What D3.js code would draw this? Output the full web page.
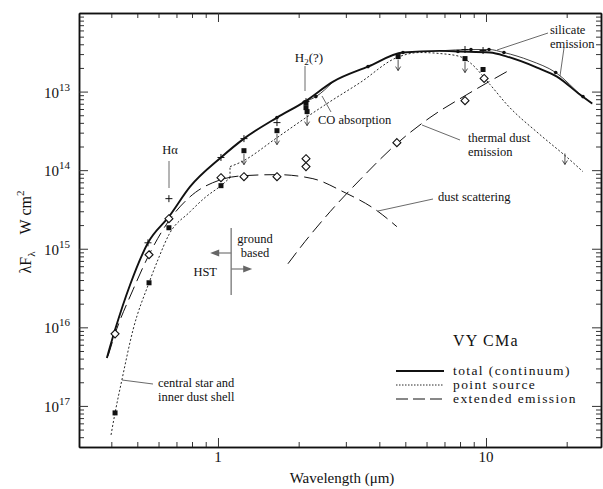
<!DOCTYPE html>
<html>
<head>
<meta charset="utf-8">
<script src="https://cdn.jsdelivr.net/npm/d3@7"></script>
<style>
  body { margin: 0; background: #fff; }
  svg text { font-family: "Liberation Serif", "DejaVu Serif", serif !important; fill: #111; }
</style>
</head>
<body>
<svg id="chart" width="603" height="489" font-family="Liberation Serif, DejaVu Serif, serif"></svg>
<script>
// wavelength (um), lambda F_lambda (W cm^-2)
const totalCurve = [[0.385, 4.08e-17], [0.413, 9.29e-17], [0.47, 3.48e-16], [0.548, 1.19e-15], [0.656, 2.56e-15],
  [0.787, 6.17e-15], [1.026, 1.45e-14], [1.25, 2.52e-14], [1.66, 4.67e-14], [2.11, 7.46e-14], [2.69, 1.34e-13],
  [3.63, 2.08e-13], [4.9, 3.14e-13], [6.73, 3.30e-13], [8.0, 3.24e-13], [10.35, 3.14e-13], [11.98, 2.79e-13],
  [15.5, 2.02e-13], [18.4, 1.55e-13], [22.4, 9.16e-14], [24.9, 7.03e-14]]
const silicateCurve = [[6.73, 3.30e-13], [8.79, 3.43e-13], [10.26, 3.43e-13], [11.67, 3.14e-13], [14.6, 2.48e-13],
  [18.2, 1.75e-13], [23.0, 8.63e-14], [24.9, 7.03e-14]]
const coCurve = [[2.11, 7.46e-14], [2.32, 8.63e-14], [2.69, 1.34e-13]]
const pointSourceA = [[0.399, 4.27e-18], [0.413, 8.15e-18], [0.438, 2.14e-17], [0.482, 9.29e-17], [0.553, 3.69e-16],
  [0.597, 7.24e-16], [0.656, 1.51e-15], [0.787, 2.96e-15], [0.894, 4.47e-15], [1.026, 6.35e-15], [1.109, 8.02e-15]]
const pointSourceB = [[1.109, 1.11e-14], [1.208, 1.25e-14], [1.66, 2.59e-14], [2.13, 4.67e-14], [2.62, 7.46e-14],
  [3.39, 1.30e-13], [4.65, 2.71e-13], [5.67, 3.14e-13], [6.73, 3.05e-13], [8.0, 2.79e-13], [8.71, 2.34e-13],
  [10.35, 1.23e-13], [11.98, 6.82e-14], [15.9, 2.83e-14], [20.1, 1.45e-14], [23.0, 9.57e-15]]
const scatterCurve = [[0.389, 4.34e-17], [0.413, 8.26e-17], [0.482, 3.01e-16], [0.553, 8.39e-16], [0.656, 2.28e-15],
  [0.787, 4.59e-15], [1.026, 7.57e-15], [1.25, 8.51e-15], [1.66, 8.77e-15], [2.26, 7.80e-15], [2.93, 5.32e-15],
  [3.92, 3.05e-15], [4.65, 1.91e-15]]
const thermalCurve = [[1.824, 6.44e-16], [2.11, 1.23e-15], [2.62, 2.96e-15], [3.39, 7.57e-15], [4.65, 2.18e-14],
  [6.18, 4.67e-14], [8.49, 9.16e-14], [11.98, 1.80e-13]]

// [wavelength, flux, upper limit?]
const squares = [[0.413, 8.15e-18, 0], [0.553, 3.69e-16, 0], [0.656, 1.85e-15, 0], [1.026, 6.35e-15, 0],
  [1.25, 1.77e-14, 1], [1.66, 3.18e-14, 1], [2.13, 7.24e-14, 0], [2.13, 6.25e-14, 0], [2.15, 5.56e-14, 1],
  [4.7, 2.79e-13, 1], [8.35, 2.63e-13, 1], [9.75, 1.91e-13, 0]]
const upperOnly = [[19.7, 1.45e-14]]
const diamonds = [[0.413, 8.26e-17], [0.553, 8.39e-16], [0.656, 2.41e-15], [1.026, 8.02e-15], [1.25, 8.26e-15],
  [1.66, 8.26e-15], [2.13, 1.40e-14], [2.13, 1.11e-14], [4.65, 2.24e-14], [8.35, 7.67e-14], [9.84, 1.47e-13]]
const pluses = [[0.548, 1.19e-15], [0.656, 4.34e-15], [1.026, 1.45e-14], [1.25, 2.52e-14], [1.66, 4.03e-14],
  [2.13, 7.46e-14], [8.35, 3.43e-13], [9.75, 3.33e-13]]
const dots = [[1.66, 4.67e-14], [2.32, 8.63e-14], [3.63, 2.08e-13], [4.9, 3.14e-13], [7.86, 3.24e-13],
  [8.79, 3.43e-13], [10.26, 3.43e-13], [11.67, 3.14e-13], [18.2, 1.75e-13], [23.0, 8.63e-14]]

const xMajor = [1, 10]
const xLabels = ['1', '10']
const yMajor = [1e-13, 1e-14, 1e-15, 1e-16, 1e-17]
const yLabels = ['13', '14', '15', '16', '17']
const hstLimit = 1.12

const svg = d3.select('#chart')
const x = d3.scaleLog().domain([0.303, 26.86]).range([79, 601])
const y = d3.scaleLog().domain([1e-12, 3.0e-18]).range([13, 447])

const xMinor = []
;[0.1, 1, 10].forEach(d => { for (let m = 2; m <= 9; m++) { const v = m * d; if (v > 0.31 && v < 26.8) xMinor.push(v) } })
const yMinor = []
for (let e = -18; e <= -13; e++) {
  for (let m = 2; m <= 9; m++) { const v = m * Math.pow(10, e); if (v > 3.05e-18 && v < 1e-12) yMinor.push(v) }
}

// frame + ticks on all four sides, pointing inward
const axes = [
  [d3.axisBottom(x), xMajor, xMinor, 'translate(0,447)'],
  [d3.axisTop(x), xMajor, xMinor, 'translate(0,13)'],
  [d3.axisLeft(y), yMajor, yMinor, 'translate(79,0)'],
  [d3.axisRight(y), yMajor, yMinor, 'translate(601,0)']
]
axes.forEach(a => {
  svg.append('g').attr('transform', a[3])
    .call(a[0].tickValues(a[2]).tickSize(-5).tickSizeOuter(0).tickFormat(''))
  svg.append('g').attr('transform', a[3])
    .call(a[0].tickValues(a[1]).tickSize(-9).tickSizeOuter(0).tickFormat(''))
})
svg.selectAll('.domain').attr('stroke', '#111').attr('stroke-width', 1.5)
svg.selectAll('.tick line').attr('stroke', '#333').attr('stroke-width', 1)

// tick labels
xMajor.forEach((v, i) => {
  svg.append('text').attr('x', x(v)).attr('y', 462).attr('text-anchor', 'middle')
    .attr('font-size', 15).text(xLabels[i])
})
yMajor.forEach((v, i) => {
  const t = svg.append('text').attr('x', 70).attr('y', y(v) + 6).attr('text-anchor', 'end').attr('font-size', 15)
  t.append('tspan').text('10')
  t.append('tspan').attr('dy', -7).attr('font-size', 11).text(yLabels[i])
})

svg.append('text').attr('x', 342).attr('y', 483).attr('text-anchor', 'middle').attr('font-size', 15)
  .text('Wavelength (\u03bcm)')
const yl = svg.append('text').attr('transform', 'translate(31,232) rotate(-90)').attr('text-anchor', 'middle')
  .attr('font-size', 16)
yl.append('tspan').text('\u03bbF')
yl.append('tspan').attr('dy', 4).attr('font-size', 11).text('\u03bb')
yl.append('tspan').attr('dy', -4).attr('dx', 17).text('W cm')
yl.append('tspan').attr('dy', -7).attr('font-size', 11).text('2')

// curves
const line = d3.line().x(d => x(d[0])).y(d => y(d[1])).curve(d3.curveMonotoneX)
const lin = d3.line().x(d => x(d[0])).y(d => y(d[1]))
function curve(data, width, dash, gen) {
  svg.append('path').attr('d', (gen || line)(data)).attr('fill', 'none').attr('stroke', '#111')
    .attr('stroke-width', width).attr('stroke-dasharray', dash)
}
curve(scatterCurve, 1, '14,6')
curve(thermalCurve, 1, '14,6')
curve(pointSourceA, 0.9, '2,2')
curve([pointSourceA[pointSourceA.length - 1], pointSourceB[0]], 0.9, '2,2', lin)
curve(pointSourceB, 0.9, '2,2')
curve(silicateCurve, 0.8, null)
curve(coCurve, 0.8, null)
curve(totalCurve, 1.9, null)

// markers
const sq = 5
svg.selectAll('rect.sq').data(squares).enter().append('rect').attr('class', 'sq')
  .attr('x', d => x(d[0]) - sq / 2).attr('y', d => y(d[1]) - sq / 2)
  .attr('width', sq).attr('height', sq).attr('fill', '#111')
function arrow(px, py) {
  const g = svg.append('g').attr('stroke', '#222').attr('stroke-width', 0.8).attr('fill', 'none')
  g.append('line').attr('x1', px).attr('x2', px).attr('y1', py).attr('y2', py + 11)
  g.append('path').attr('d', `M${px - 2.5},${py + 7}L${px},${py + 11}L${px + 2.5},${py + 7}`)
}
squares.filter(d => d[2]).forEach(d => arrow(x(d[0]), y(d[1]) + 3))
upperOnly.forEach(d => arrow(x(d[0]), y(d[1]) - 4))

svg.selectAll('path.dm').data(diamonds).enter().append('path').attr('class', 'dm')
  .attr('d', d => { const cx = x(d[0]), cy = y(d[1]), r = 4; return `M${cx},${cy - r}L${cx + r},${cy}L${cx},${cy + r}L${cx - r},${cy}Z` })
  .attr('fill', '#fff').attr('stroke', '#111').attr('stroke-width', 1.1)
svg.selectAll('path.pl').data(pluses).enter().append('path').attr('class', 'pl')
  .attr('d', d => { const cx = x(d[0]), cy = y(d[1]), r = 3.5; return `M${cx - r},${cy}H${cx + r}M${cx},${cy - r}V${cy + r}` })
  .attr('stroke', '#111').attr('stroke-width', 1)
svg.selectAll('circle.dt').data(dots).enter().append('circle').attr('class', 'dt')
  .attr('cx', d => x(d[0])).attr('cy', d => y(d[1])).attr('r', 1.8).attr('fill', '#111')

// annotations
const notes = [
  ['H\u03b1', 170, 154, 'middle'], ['CO absorption', 318, 124, 'start'],
  ['silicate', 550, 34, 'start'], ['emission', 550, 48, 'start'],
  ['thermal dust', 468, 142, 'start'], ['emission', 468, 156, 'start'],
  ['dust scattering', 438, 201, 'start'], ['ground', 255, 243, 'middle'], ['based', 255, 257, 'middle'],
  ['HST', 217, 276, 'end'], ['central star and', 158, 387, 'start'], ['inner dust shell', 158, 401, 'start']
]
notes.forEach(n => svg.append('text').attr('x', n[1]).attr('y', n[2]).attr('text-anchor', n[3])
  .attr('font-size', 12.5).text(n[0]))
const h2 = svg.append('text').attr('x', 309).attr('y', 62).attr('text-anchor', 'middle').attr('font-size', 13)
h2.append('tspan').text('H')
h2.append('tspan').attr('dy', 3).attr('font-size', 9).text('2')
h2.append('tspan').attr('dy', -3).text('(?)')

const leaders = [[169, 161, 169, 188], [305, 66, 305, 91], [331, 112, 322, 96], [548, 33, 497, 50],
  [564, 48, 560, 76], [422, 125, 460, 140], [378, 211, 433, 199], [122, 380, 153, 384]]
leaders.forEach(l => svg.append('line').attr('x1', l[0]).attr('y1', l[1]).attr('x2', l[2]).attr('y2', l[3])
  .attr('stroke', '#444').attr('stroke-width', 0.8))

// HST / ground based divider
const hx = x(hstLimit)
svg.append('line').attr('x1', hx).attr('x2', hx).attr('y1', 228).attr('y2', 295).attr('stroke', '#888').attr('stroke-width', 1.5)
svg.append('line').attr('x1', hx).attr('x2', hx - 14).attr('y1', 253).attr('y2', 253).attr('stroke', '#777').attr('stroke-width', 1.2)
svg.append('path').attr('d', `M${hx - 21},253L${hx - 12},249.5L${hx - 12},256.5Z`).attr('fill', '#666')
svg.append('line').attr('x1', hx).attr('x2', hx + 14).attr('y1', 269).attr('y2', 269).attr('stroke', '#777').attr('stroke-width', 1.2)
svg.append('path').attr('d', `M${hx + 21},269L${hx + 12},265.5L${hx + 12},272.5Z`).attr('fill', '#666')

// legend
svg.append('text').attr('x', 453).attr('y', 346).attr('font-size', 16).attr('letter-spacing', 1.2).text('VY CMa')
const legend = [['total (continuum)', 1.9, null], ['point source', 0.9, '1.5,1.5'], ['extended emission', 1, '12,5']]
legend.forEach((d, i) => {
  const ly = 371 + i * 14
  svg.append('line').attr('x1', 396).attr('x2', 444).attr('y1', ly).attr('y2', ly)
    .attr('stroke', '#111').attr('stroke-width', d[1]).attr('stroke-dasharray', d[2])
  svg.append('text').attr('x', 453).attr('y', ly + 4).attr('font-size', 13.5).attr('letter-spacing', 1.4)
    .text(d[0])
})
</script>
</body>
</html>
